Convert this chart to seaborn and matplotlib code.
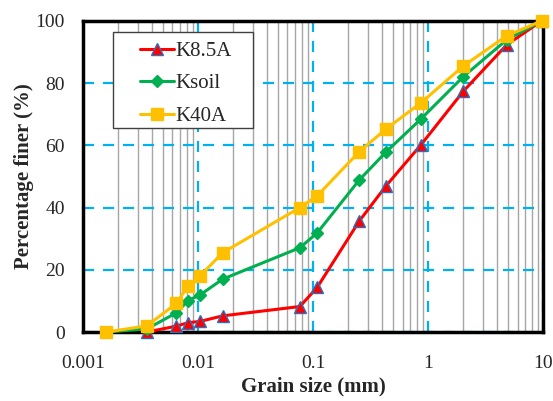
import matplotlib
matplotlib.use("Agg")
import matplotlib.pyplot as plt
import matplotlib.ticker as mticker
from matplotlib.patches import Rectangle
import seaborn as sns
import numpy as np
import pandas as pd

# ========================================
# Data
# ========================================
k85a_size = [0.0036, 0.0065, 0.0082, 0.0104, 0.0164, 0.077, 0.109, 0.253, 0.43, 0.87, 2.03, 4.83, 9.75]
k85a_finer = [0.0, 1.9, 3.0, 3.4, 5.2, 8.2, 14.4, 35.7, 46.9, 60.2, 77.4, 92.3, 100.0]

ksoil_size = [0.0016, 0.0036, 0.0065, 0.0082, 0.0104, 0.0164, 0.077, 0.109, 0.253, 0.43, 0.87, 2.03, 4.83, 9.75]
ksoil_finer = [0.0, 1.0, 6.2, 10.1, 11.9, 17.0, 27.1, 31.9, 48.9, 57.8, 68.5, 82.1, 93.9, 100.0]

k40a_size = [0.0016, 0.0036, 0.0065, 0.0082, 0.0104, 0.0164, 0.077, 0.109, 0.253, 0.43, 0.87, 2.03, 4.83, 9.75]
k40a_finer = [0.0, 2.0, 9.2, 14.9, 18.0, 25.5, 40.0, 43.8, 58.0, 65.2, 73.7, 85.5, 95.2, 100.0]

x_ticks = [0.001, 0.01, 0.1, 1, 10]
x_tick_labels = ["0.001", "0.01", "0.1", "1", "10"]
y_ticks = [0, 20, 40, 60, 80, 100]

# ========================================
# Plot
# ========================================
sns.set_style("white")
plt.rcParams['font.family'] = ['Liberation Serif', 'DejaVu Serif']

fig, ax = plt.subplots(figsize=(5.53, 4.01), dpi=100)
fig.subplots_adjust(left=0.150, right=0.982, top=0.948, bottom=0.172)

blue_grid = '#00B0F0'

# log x axis with gray minor lines, dashed blue major grid
ax.set_xscale('log')
ax.set_xlim(0.001, 10)
ax.set_ylim(0, 100)
ax.xaxis.set_minor_locator(mticker.LogLocator(base=10, subs=np.arange(2, 10)))
ax.xaxis.set_minor_formatter(mticker.NullFormatter())
ax.set_xticks(x_ticks)
ax.set_xticklabels(x_tick_labels)
ax.set_yticks(y_ticks)
ax.grid(which='minor', axis='x', color='#A6A6A6', linewidth=1.0, linestyle='-')
ax.grid(which='major', axis='x', color=blue_grid, linewidth=1.6, linestyle=(0, (5, 4)))
ax.grid(which='major', axis='y', color=blue_grid, linewidth=1.6, linestyle=(0, (5, 4)))
ax.set_axisbelow(True)

series = [
    ("K8.5A", k85a_size, k85a_finer, '#FF0000', '^', '#2F6EBA', 9),
    ("Ksoil", ksoil_size, ksoil_finer, '#00B050', 'D', '#00B050', 6.5),
    ("K40A", k40a_size, k40a_finer, '#FFC000', 's', '#FFC000', 8),
]

for name, xs, ys, col, mk, edge, ms in series:
    df = pd.DataFrame({'size': xs, 'finer': ys})
    sns.lineplot(data=df, x='size', y='finer', ax=ax, color=col, linewidth=2.2,
                 marker=mk, markersize=ms, markeredgecolor=edge, markeredgewidth=1.0,
                 label=name, clip_on=False, zorder=3)

ax.tick_params(axis='x', which='both', length=0, labelsize=14, pad=16.5)
ax.tick_params(axis='y', which='both', length=0, labelsize=14, pad=13)
ax.set_xlabel('Grain size (mm)', fontsize=15, fontweight='bold', labelpad=3)
ax.set_ylabel('Percentage finer (%)', fontsize=15, fontweight='bold', labelpad=1)

for sp in ax.spines.values():
    sp.set_visible(True)
    sp.set_color('black')
    sp.set_linewidth(2.5)

# legend box drawn separately (wider horizontal padding than vertical)
ax.add_patch(Rectangle((0.065, 0.656), 0.305, 0.309, transform=ax.transAxes,
                       facecolor='white', edgecolor='#404040', linewidth=1.0, zorder=4))
leg = ax.legend(loc='upper left', bbox_to_anchor=(0.124, 0.934), fontsize=15,
                frameon=False, borderpad=0, borderaxespad=0,
                handlelength=1.65, labelspacing=0.62, handletextpad=0.05)
leg.set_zorder(5)

plt.savefig('out.png', dpi=100)
